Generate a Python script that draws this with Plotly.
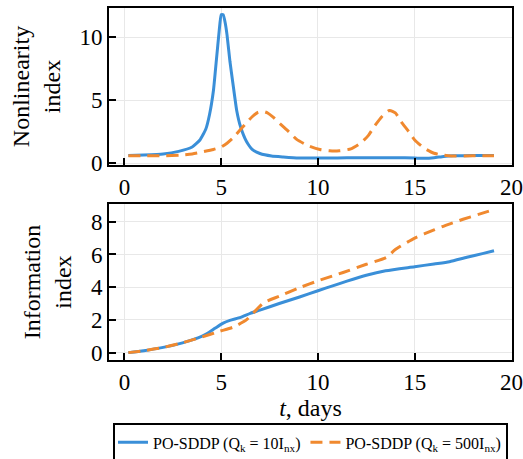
import plotly.graph_objects as go

# ---- data ----
t_nl_a = [0.2, 1, 2, 2.8, 3.5, 3.9, 4.2, 4.4, 4.6, 4.75, 4.9, 5.0, 5.1, 5.2, 5.3, 5.45, 5.6, 5.8, 6.0, 6.3, 6.6, 7.0, 7.6, 8.2, 9, 10, 11, 12, 13, 14, 15, 15.5, 16, 16.5, 17, 18, 19.1]
nl_a = [0.62, 0.66, 0.74, 0.95, 1.3, 1.85, 2.7, 3.9, 5.8, 8.2, 10.6, 11.8, 11.8, 11.2, 10.2, 8.1, 6.4, 4.2, 2.9, 1.75, 1.1, 0.78, 0.58, 0.5, 0.42, 0.42, 0.43, 0.45, 0.45, 0.45, 0.42, 0.4, 0.45, 0.55, 0.6, 0.62, 0.62]

t_nl_b = [0.2, 1, 2, 2.9, 3.5, 4, 4.6, 5, 5.3, 5.6, 5.95, 6.3, 6.6, 6.9, 7.15, 7.4, 7.7, 8.0, 8.5, 8.9, 9.5, 10.1, 10.6, 11.1, 11.7, 12.2, 12.6, 12.9, 13.3, 13.7, 14.0, 14.3, 14.7, 15, 15.5, 16, 16.5, 16.9, 18, 19.1]
nl_b = [0.6, 0.6, 0.6, 0.66, 0.75, 0.9, 1.1, 1.3, 1.6, 2.0, 2.6, 3.2, 3.7, 4.05, 4.12, 4.0, 3.65, 3.2, 2.5, 1.9, 1.4, 1.1, 1.0, 1.0, 1.15, 1.6, 2.2, 2.9, 3.7, 4.2, 4.0, 3.3, 2.5, 1.85, 1.2, 0.8, 0.65, 0.58, 0.6, 0.6]

t_inf_a = [0.2, 1, 2, 3, 3.8, 4.25, 4.7, 5.1, 5.45, 6, 6.5, 7, 8, 9.05, 10, 10.8, 11.5, 12.5, 13.5, 15, 16, 16.8, 17.7, 18.5, 19.1]
inf_a = [0.0, 0.12, 0.32, 0.6, 0.9, 1.15, 1.5, 1.8, 1.97, 2.15, 2.4, 2.6, 3.0, 3.4, 3.78, 4.1, 4.37, 4.73, 5.0, 5.25, 5.42, 5.56, 5.83, 6.05, 6.23]

t_inf_b = [0.2, 1, 2, 3, 4, 4.9, 5.6, 6.3, 6.8, 7.2, 8, 9.05, 10.08, 11.3, 12.5, 13.55, 14.0, 15, 16, 16.6, 17.5, 18.3, 19.1]
inf_b = [0.0, 0.12, 0.32, 0.6, 0.95, 1.3, 1.55, 2.0, 2.6, 3.05, 3.45, 3.97, 4.42, 4.9, 5.4, 5.83, 6.3, 7.0, 7.5, 7.78, 8.15, 8.45, 8.75]

x_ticks = [0, 5, 10, 15, 20]
nl_ticks = [0, 5, 10]
inf_ticks = [0, 2, 4, 6, 8]

name_a = "PO-SDDP (Q<sub>k</sub> = 10I<sub>nx</sub>)"
name_b = "PO-SDDP (Q<sub>k</sub> = 500I<sub>nx</sub>)"

BLUE = "#3A8FD8"
ORANGE = "#F0892F"
FONT = "Liberation Serif, serif"
DASH = "12px,7px"

fig = go.Figure()
fig.add_trace(go.Scatter(x=t_nl_a, y=nl_a, mode="lines", name=name_a, xaxis="x", yaxis="y",
                         line=dict(color=BLUE, width=3, shape="spline", smoothing=0.4), legendgroup="a"))
fig.add_trace(go.Scatter(x=t_nl_b, y=nl_b, mode="lines", name=name_b, xaxis="x", yaxis="y",
                         line=dict(color=ORANGE, width=3, dash=DASH, shape="spline", smoothing=0.6),
                         legendgroup="b"))
fig.add_trace(go.Scatter(x=t_inf_a, y=inf_a, mode="lines", name=name_a, showlegend=False, xaxis="x2", yaxis="y2",
                         line=dict(color=BLUE, width=3, shape="spline", smoothing=0.6), legendgroup="a"))
fig.add_trace(go.Scatter(x=t_inf_b, y=inf_b, mode="lines", name=name_b, showlegend=False, xaxis="x2", yaxis="y2",
                         line=dict(color=ORANGE, width=3, dash=DASH, shape="spline", smoothing=0.6),
                         legendgroup="b"))


def ax(**kw):
    d = dict(
        showline=True, linecolor="black", linewidth=2, mirror=True,
        ticks="inside", ticklen=7, tickwidth=2, tickcolor="black",
        showgrid=True, gridcolor="#e8e8e8", gridwidth=1, zeroline=False,
        tickfont=dict(size=23),
    )
    d.update(kw)
    return d


fig.update_layout(
    template="none",
    width=523, height=459,
    margin=dict(l=109, r=11, t=8, b=99, autoexpand=False),
    paper_bgcolor="white", plot_bgcolor="white",
    font=dict(family=FONT, size=23, color="#000000"),
    xaxis=ax(domain=[0, 1], anchor="y", range=[-0.8, 20.03], tickvals=x_ticks),
    yaxis=ax(domain=[0.554, 1.0], anchor="x", range=[-0.13, 12.33], tickvals=nl_ticks,
             title=dict(text="Nonlinearity<br>index", font=dict(size=24), standoff=12)),
    xaxis2=ax(domain=[0, 1], anchor="y2", range=[-0.8, 20.03], tickvals=x_ticks,
              title=dict(text="<i>t</i>, days", font=dict(size=24), standoff=0)),
    yaxis2=ax(domain=[0.0, 0.443], anchor="x2", range=[-0.45, 9.08], tickvals=inf_ticks,
              title=dict(text="Information<br>index", font=dict(size=24), standoff=12)),
    legend=dict(orientation="h", x=0.5, xanchor="center", y=-0.18, yanchor="top",
                bordercolor="black", borderwidth=2, bgcolor="white",
                font=dict(size=16), itemwidth=30, tracegroupgap=0),
    showlegend=True,
)

fig.write_html("out.html")
